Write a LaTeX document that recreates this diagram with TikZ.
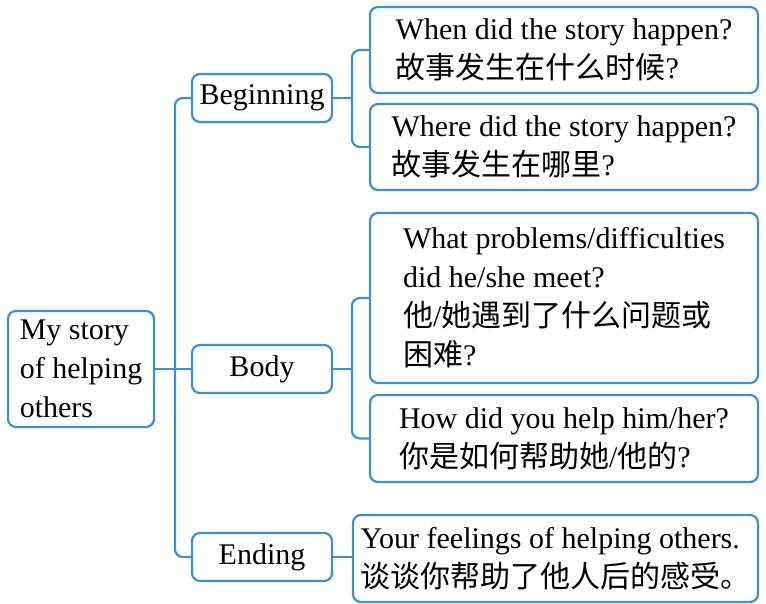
\documentclass[tikz,border=0pt]{standalone}
\usepackage{fontspec}
\setmainfont{Liberation Serif}
\newfontfamily\cjk{Noto Sans CJK SC}
\usetikzlibrary{positioning}
\definecolor{lineblue}{RGB}{62,142,212}
\newcommand{\zh}[1]{{\cjk #1}}
\tikzset{%
    % boxes of the story plan
    box/.style = {draw=lineblue, line width=2.2pt, rounded corners=8pt,
    inner sep=0pt, font=\fontsize{30}{39}\selectfont},
    % connectors
    link/.style = {draw=lineblue, line width=2.2pt, rounded corners=8pt}
}
\begin{document}
\begin{tikzpicture}[x=1pt,y=-1pt]

	\tikzstyle{topic}=[box, minimum width=146pt, minimum height=116pt, align=left]
	\tikzstyle{part}=[box, minimum width=140pt, minimum height=48pt]
	\tikzstyle{question}=[box, minimum width=388pt, align=left]

	\useasboundingbox (0,0) rectangle (766,604);

	% placement des noeuds
	\node[topic] 	(root) at (81,369) 	{My story\\of helping\\others};
	\node[part] 	(beg) at (262,98) 	{Beginning};
	\node[part] 	(body) at (262,369) 	{Body};
	\node[part] 	(ending) at (262,557) 	{Ending};
	\node[question, minimum height=86pt] 	(q1) at (564,50) 	{When did the story happen?\\\zh{故事发生在什么时候}?};
	\node[question, minimum height=86pt] 	(q2) at (564,147) 	{Where did the story happen?\\\zh{故事发生在哪里}?};
	\node[question, minimum height=170pt] 	(q3) at (564,298) 	{What problems/difficulties\\did he/she meet?\\\zh{他}/\zh{她遇到了什么问题或}\\\zh{困难}?};
	\node[question, minimum height=87pt] 	(q4) at (564,438.5) 	{How did you help him/her?\\\zh{你是如何帮助她}/\zh{他的}?};
	\node[question, minimum width=405pt, minimum height=87pt] 	(feel) at (555.5,558.5) 	{Your feelings of helping others.\\\zh{谈谈你帮助了他人后的感受。}};

	% liaisons
	\draw[link] (root.east) -- (body.west) ;
	\draw[link] (beg.west) -- ++(-16,0) |- (ending.west) ;
	\draw[link] (beg.east) -- (beg.east -| feel.west) ;
	\draw[link] (q1.west) -- ++(-17,0) |- (q2.west) ;
	\draw[link] (body.east) -- (body.east -| feel.west) ;
	\draw[link] (q3.west) -- ++(-17,0) |- (q4.west) ;
	\draw[link] (ending.east) -- (ending.east -| feel.west) ;

\end{tikzpicture}
\end{document}
